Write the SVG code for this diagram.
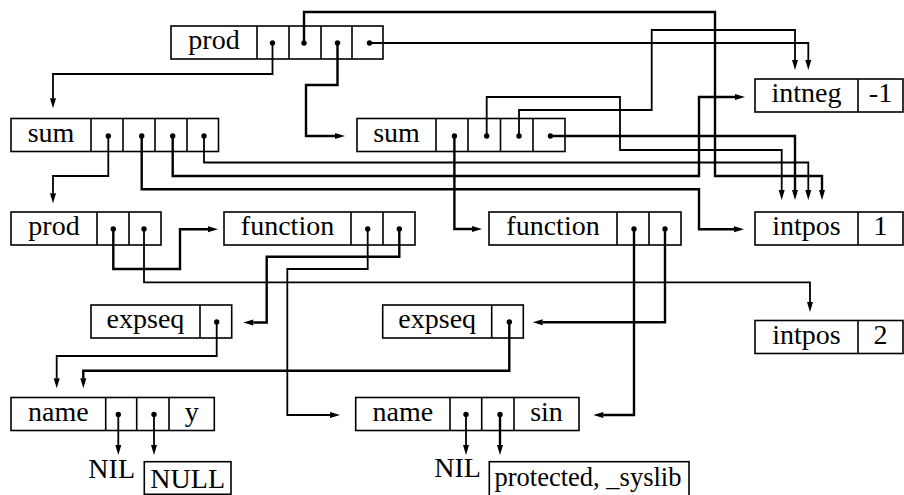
<svg xmlns="http://www.w3.org/2000/svg" width="904" height="495" viewBox="0 0 904 495">
<defs>
<marker id="ah" markerUnits="userSpaceOnUse" markerWidth="11" markerHeight="8" refX="0" refY="3" orient="auto" overflow="visible">
<path d="M0,0 L10,3 L0,6 z" fill="#000"/>
</marker>
<style>
.b{fill:none;stroke:#000;stroke-width:1.6}
.d{stroke:#000;stroke-width:1.6}
.t{fill:#000;text-anchor:middle}
.c{fill:none;stroke:#000;stroke-width:1.8;stroke-linejoin:miter}
.k{stroke-width:2.4}
.a{marker-end:url(#ah)}
.p{fill:#000}
</style>
</defs>
<rect width="904" height="495" fill="#fff"/>
<g id="connectors">
<path class="c a" d="M272.5,43 V74 H53 V98.3"/>
<path class="c k a" d="M304,43 V12 H715 V176 H822 V190"/>
<path class="c k a" d="M337.5,43 V85 H306 V136 H335"/>
<path class="c a" d="M369.5,43 H808.3 V60"/>
<path class="c a" d="M108.3,136 V176 H53 V193.3"/>
<path class="c k a" d="M141.7,136 V189.3 H699 V229.3 H734"/>
<path class="c k a" d="M172.7,136 V176 H699 V97 H735"/>
<path class="c a" d="M204,136 V162.5 H808.3 V190"/>
<path class="c k a" d="M454.4,136 V229 H472"/>
<path class="c a" d="M486.7,136 V97 H620 V150 H781.7 V190"/>
<path class="c a" d="M519,136 V110 H651.7 V30 H795 V60"/>
<path class="c k a" d="M550.4,136 H795 V190"/>
<path class="c k a" d="M113.3,229 V269 H180 V229.3 H208"/>
<path class="c a" d="M144,229 V282.3 H810 V302"/>
<path class="c a" d="M367.7,229 V269 H287.3 V415 H330"/>
<path class="c k a" d="M399.3,229 V256.7 H266.7 V322.5 H253.3"/>
<path class="c k a" d="M634,229 V415 H603.3"/>
<path class="c k a" d="M665,229 V322.3 H542.7"/>
<path class="c a" d="M216.7,322 V356 H56.7 V378.3"/>
<path class="c k a" d="M509.3,322 V370.7 H83.3 V378.3"/>
<path class="c a" d="M118.3,414.5 V445"/>
<path class="c a" d="M154,414.5 V445"/>
<path class="c a" d="M466,414.5 V445"/>
<path class="c k a" d="M500,414.5 V445"/>
</g>
<g font-family="Liberation Serif, DejaVu Serif, serif" font-size="28">
<g id="prod1">
<rect class="b" x="171" y="26" width="212" height="33"/>
<path class="d" d="M257,26 V59 M289,26 V59 M321,26 V59 M352,26 V59"/>
<text class="t" x="214" y="49">prod</text>
<circle class="p" cx="272.5" cy="43" r="2.7"/><circle class="p" cx="304" cy="43" r="2.7"/><circle class="p" cx="337.5" cy="43" r="2.7"/><circle class="p" cx="369.5" cy="43" r="2.7"/>
</g>
<g id="intneg">
<rect class="b" x="755" y="79" width="148" height="33"/>
<path class="d" d="M858,79 V112"/>
<text class="t" x="806.5" y="102">intneg</text>
<text class="t" x="880.5" y="102">-1</text>
</g>
<g id="sum1">
<rect class="b" x="11" y="118.5" width="207.5" height="33"/>
<path class="d" d="M91,118.5 V151.5 M123,118.5 V151.5 M155,118.5 V151.5 M187,118.5 V151.5"/>
<text class="t" x="51" y="141.5">sum</text>
<circle class="p" cx="108.3" cy="136" r="2.7"/><circle class="p" cx="141.7" cy="136" r="2.7"/><circle class="p" cx="172.7" cy="136" r="2.7"/><circle class="p" cx="204" cy="136" r="2.7"/>
</g>
<g id="sum2">
<rect class="b" x="357" y="118.5" width="208" height="33"/>
<path class="d" d="M436,118.5 V151.5 M468,118.5 V151.5 M500.5,118.5 V151.5 M533,118.5 V151.5"/>
<text class="t" x="396.5" y="141.5">sum</text>
<circle class="p" cx="454.4" cy="136" r="2.7"/><circle class="p" cx="486.7" cy="136" r="2.7"/><circle class="p" cx="519" cy="136" r="2.7"/><circle class="p" cx="550.4" cy="136" r="2.7"/>
</g>
<g id="prod2">
<rect class="b" x="11" y="212" width="150" height="33"/>
<path class="d" d="M97,212 V245 M129,212 V245"/>
<text class="t" x="54" y="235">prod</text>
<circle class="p" cx="113.3" cy="229" r="2.7"/><circle class="p" cx="144" cy="229" r="2.7"/>
</g>
<g id="function1">
<rect class="b" x="224" y="212" width="191" height="33"/>
<path class="d" d="M351,212 V245 M383,212 V245"/>
<text class="t" x="287.5" y="235">function</text>
<circle class="p" cx="367.7" cy="229" r="2.7"/><circle class="p" cx="399.3" cy="229" r="2.7"/>
</g>
<g id="function2">
<rect class="b" x="489" y="212" width="192" height="33"/>
<path class="d" d="M617,212 V245 M649,212 V245"/>
<text class="t" x="553" y="235">function</text>
<circle class="p" cx="634" cy="229" r="2.7"/><circle class="p" cx="665" cy="229" r="2.7"/>
</g>
<g id="intpos1">
<rect class="b" x="755" y="212" width="148" height="33"/>
<path class="d" d="M858,212 V245"/>
<text class="t" x="806.5" y="235">intpos</text>
<text class="t" x="880.5" y="235">1</text>
</g>
<g id="expseq1">
<rect class="b" x="91" y="305" width="140.7" height="33"/>
<path class="d" d="M200,305 V338"/>
<text class="t" x="145.5" y="328">expseq</text>
<circle class="p" cx="216.7" cy="322" r="2.7"/>
</g>
<g id="expseq2">
<rect class="b" x="382.7" y="305" width="140.6" height="33"/>
<path class="d" d="M491.7,305 V338"/>
<text class="t" x="437.2" y="328">expseq</text>
<circle class="p" cx="509.3" cy="322" r="2.7"/>
</g>
<g id="intpos2">
<rect class="b" x="755" y="320.5" width="148" height="33"/>
<path class="d" d="M858,320.5 V353.5"/>
<text class="t" x="806.5" y="343.5">intpos</text>
<text class="t" x="880.5" y="343.5">2</text>
</g>
<g id="name1">
<rect class="b" x="11" y="397.5" width="203.3" height="33"/>
<path class="d" d="M105.7,397.5 V430.5 M136.7,397.5 V430.5 M169,397.5 V430.5"/>
<text class="t" x="58.4" y="420.5">name</text>
<text class="t" x="191.7" y="420.5">y</text>
<circle class="p" cx="118.3" cy="414.5" r="2.7"/><circle class="p" cx="154" cy="414.5" r="2.7"/>
</g>
<g id="name2">
<rect class="b" x="355.7" y="397.5" width="223.3" height="33"/>
<path class="d" d="M450,397.5 V430.5 M481.7,397.5 V430.5 M514,397.5 V430.5"/>
<text class="t" x="402.9" y="420.5">name</text>
<text class="t" x="546.5" y="420.5">sin</text>
<circle class="p" cx="466" cy="414.5" r="2.7"/><circle class="p" cx="500" cy="414.5" r="2.7"/>
</g>
<g id="nil1">
<text class="t" x="111.7" y="477.5">NIL</text>
</g>
<g id="null">
<rect class="b" x="144.3" y="461.7" width="86.7" height="32.6"/>
<text class="t" x="187.7" y="488">NULL</text>
</g>
<g id="nil2">
<text class="t" x="457.5" y="477">NIL</text>
</g>
<g id="protected">
<rect class="b" x="489.3" y="461.7" width="199.7" height="40"/>
<text class="t" x="588" y="486" font-size="26.5">protected, _syslib</text>
</g>
</g>
</svg>
